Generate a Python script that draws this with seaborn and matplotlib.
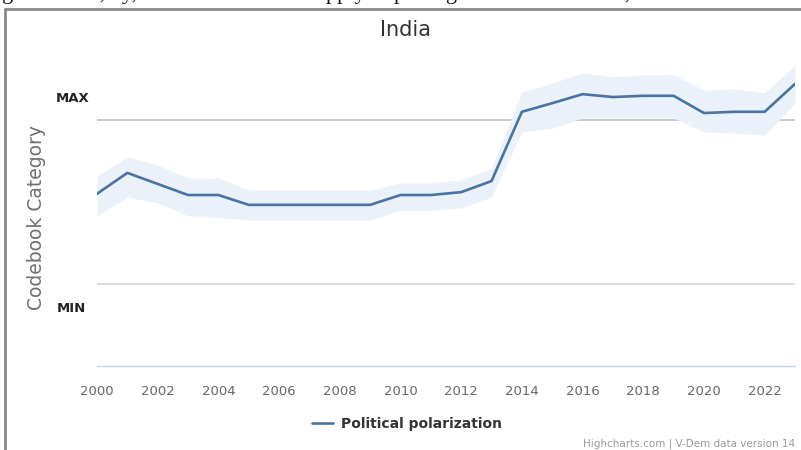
import numpy as np
import pandas as pd
import matplotlib
matplotlib.use("Agg")
import matplotlib.pyplot as plt
import seaborn as sns

# ---- data (MIN line = 0, MAX line = 4) ----
years = list(range(2000, 2024))
polarization = [2.20, 2.71, 2.44, 2.17, 2.17, 1.93, 1.93, 1.93, 1.93, 1.93,
                2.17, 2.17, 2.24, 2.51, 4.20, 4.41, 4.63, 4.56, 4.59, 4.59,
                4.17, 4.20, 4.20, 4.88]
upper = [2.63, 3.10, 2.90, 2.59, 2.59, 2.29, 2.29, 2.29, 2.29, 2.29,
         2.46, 2.46, 2.54, 2.83, 4.68, 4.90, 5.15, 5.05, 5.10, 5.10,
         4.73, 4.76, 4.66, 5.34]
lower = [1.66, 2.12, 1.98, 1.66, 1.63, 1.56, 1.56, 1.56, 1.56, 1.56,
         1.80, 1.80, 1.85, 2.12, 3.71, 3.80, 4.05, 4.05, 4.05, 4.05,
         3.71, 3.68, 3.63, 4.41]
xticks = list(range(2000, 2023, 2))
level_lines = [4, 0]
level_labels = ["MAX", "MIN"]

df = pd.DataFrame({"year": years, "value": polarization,
                   "upper": upper, "lower": lower})

sns.set_style("white")
plt.rcParams['font.family'] = ['DejaVu Sans']

W, H = 801, 450
fig = plt.figure(figsize=(W / 100, H / 100), dpi=100)

# plot area in pixels: x 97..795, y 50..366
ax = fig.add_axes([97 / W, 1 - 366 / H, (795 - 97) / W, (366 - 50) / H])
ax.set_xlim(2000, 2023)
ax.set_ylim(-2.0, 5.707)

# MAX / MIN reference lines
ax.axhline(level_lines[0], color="#c2c2c2", lw=1.2, zorder=1)
ax.axhline(level_lines[1], color="#d6d6d6", lw=1.2, zorder=1)

# confidence band + line
ax.fill_between(df["year"], df["lower"], df["upper"], color="#eaf1f9", lw=0, zorder=2)
sns.lineplot(data=df, x="year", y="value", ax=ax, color="#4a72a2", lw=1.9,
             zorder=3, label="Political polarization", legend=False)

for s in ["top", "right", "left"]:
    ax.spines[s].set_visible(False)
ax.spines["bottom"].set_color("#c8d4e2")
ax.spines["bottom"].set_linewidth(1)
ax.set_xticks(xticks)
ax.set_xticklabels([str(t) for t in xticks])
ax.tick_params(axis="x", direction="out", length=10, width=1, color="#c8d4e2",
               labelsize=9.5, labelcolor="#666666", pad=4)
ax.set_yticks([])
ax.set_xlabel("")
ax.set_ylabel("")

# level labels
fig.text(56 / W, 1 - 99 / H, level_labels[0], fontsize=9.5, fontweight="bold",
         color="#222222", ha="left", va="center")
fig.text(57 / W, 1 - 309 / H, level_labels[1], fontsize=9.5, fontweight="bold",
         color="#222222", ha="left", va="center")

# titles
fig.text(405 / W, 1 - 30 / H, "India", fontsize=15, color="#333333",
         ha="center", va="center")
fig.text(37 / W, 1 - 217 / H, "Codebook Category", fontsize=13.5, color="#707070",
         rotation=90, ha="center", va="center")

# legend
fig.legend(*ax.get_legend_handles_labels(), loc="center",
           bbox_to_anchor=(407 / W, 1 - 424 / H), frameon=False,
           handlelength=1.5, handletextpad=0.6,
           prop={"weight": "bold", "size": 10}, labelcolor="#333333")

# credits
fig.text(795 / W, 1 - 444 / H, "Highcharts.com | V-Dem data version 14",
         fontsize=7.5, color="#999999", ha="right", va="center")

# frame of the screenshot and the cut-off document line above it
fig.add_artist(plt.Line2D([5 / W, 1], [1 - 9 / H, 1 - 9 / H], color="#8a8a8a", lw=2))
fig.add_artist(plt.Line2D([5 / W, 5 / W], [0, 1 - 9 / H], color="#8a8a8a", lw=2))
fig.text(2 / W, 1 + 1 / H,
         "ge at home, by, while Indian rulers apply to polling as in last elections, and so on",
         family="Liberation Serif", fontsize=16, color="#111111",
         ha="left", va="baseline")

fig.savefig("out.png", dpi=100)
